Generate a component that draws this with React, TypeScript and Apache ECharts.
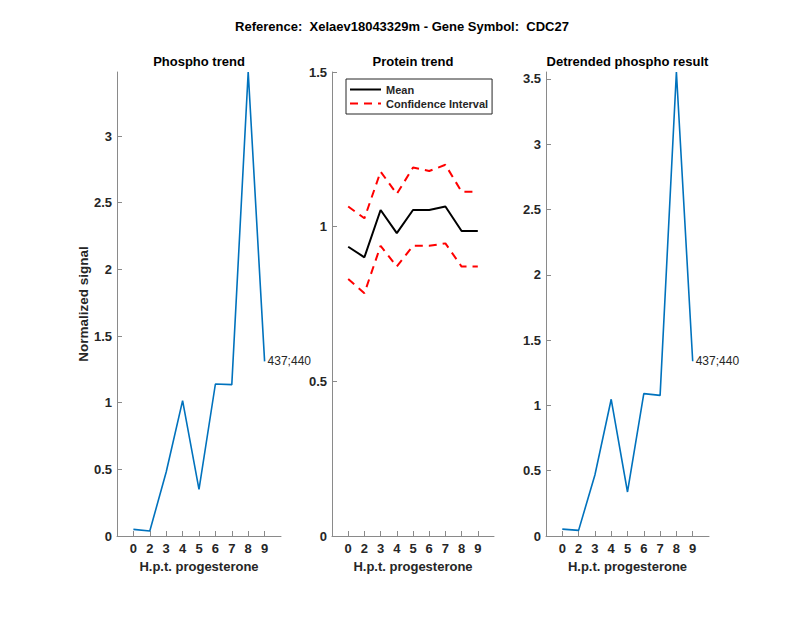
import React, { useEffect, useRef } from "react";
import * as echarts from "echarts";

const timeLabels = ["0", "2", "3", "4", "5", "6", "7", "8", "9"];
const phospho = [0.05, 0.037, 0.48, 1.015, 0.35, 1.14, 1.135, 3.48, 1.31];
const proteinMean = [0.935, 0.901, 1.054, 0.979, 1.054, 1.054, 1.065, 0.986, 0.986];
const proteinUpper = [1.065, 1.027, 1.178, 1.106, 1.191, 1.18, 1.2, 1.113, 1.113];
const proteinLower = [0.831, 0.785, 0.938, 0.871, 0.938, 0.938, 0.946, 0.871, 0.871];
const detrended = [0.053, 0.043, 0.467, 1.047, 0.337, 1.09, 1.077, 3.553, 1.338];
const phosphoTicks = [0, 0.5, 1, 1.5, 2, 2.5, 3];
const proteinTicks = [0, 0.5, 1, 1.5];
const detrendedTicks = [0, 0.5, 1, 1.5, 2, 2.5, 3, 3.5];
const peptideLabel = "437;440";
const mainTitle = "Reference:  Xelaev18043329m - Gene Symbol:  CDC27";
const panelTitles = ["Phospho trend", "Protein trend", "Detrended phospho result"];
const xName = "H.p.t. progesterone";
const yName = "Normalized signal";

const FONT = "'Liberation Sans', Arial, Helvetica, sans-serif";
const TXT = "#262626";
const AX = "#8a8a8a";
const BLUE = "#0072BD";

const grids = [
  { left: 117, top: 72, width: 164, height: 464 },
  { left: 332, top: 72, width: 162, height: 464 },
  { left: 546, top: 72, width: 163, height: 464 },
];

const xPositions = timeLabels.map((_, i) => i + 1);
const pairs = (arr: number[]) => arr.map((v, i) => [i + 1, v]);

export default function App() {
  const ref = useRef<HTMLDivElement>(null);
  useEffect(() => {
    if (!ref.current) return;
    const chart = echarts.init(ref.current, null, { renderer: "svg" });

    const xAxes = grids.map((_, gi) => ({
      gridIndex: gi,
      type: "value",
      min: 0,
      max: 10,
      axisLine: { show: true, onZero: false, lineStyle: { color: AX, width: 1 } },
      axisTick: { show: true, inside: true, length: 5, customValues: xPositions, lineStyle: { color: AX } },
      axisLabel: {
        customValues: xPositions,
        formatter: (v: number) => timeLabels[Math.round(v) - 1] ?? "",
        color: TXT,
        fontFamily: FONT,
        fontWeight: "bold",
        fontSize: 13,
        margin: 6,
      },
      splitLine: { show: false },
      name: xName,
      nameLocation: "middle",
      nameGap: 20,
      nameTextStyle: { color: TXT, fontFamily: FONT, fontWeight: "bold", fontSize: 13 },
    }));

    const tickSets = [phosphoTicks, proteinTicks, detrendedTicks];
    const yAxes = grids.map((_, gi) => ({
      gridIndex: gi,
      type: "value",
      min: 0,
      max: gi === 1 ? 1.5 : "dataMax",
      axisLine: { show: true, lineStyle: { color: AX, width: 1 } },
      axisTick: { show: true, inside: true, length: 5, customValues: tickSets[gi], lineStyle: { color: AX } },
      axisLabel: {
        customValues: tickSets[gi],
        formatter: (v: number) => String(v),
        color: TXT,
        fontFamily: FONT,
        fontWeight: "bold",
        fontSize: 13,
        margin: 5,
      },
      splitLine: { show: false },
      ...(gi === 0
        ? {
            name: yName,
            nameLocation: "middle",
            nameGap: 22,
            nameTextStyle: { color: TXT, fontFamily: FONT, fontWeight: "bold", fontSize: 13.5 },
          }
        : {}),
    }));

    const endLabel = {
      show: true,
      formatter: peptideLabel,
      color: TXT,
      fontFamily: FONT,
      fontSize: 12,
      distance: 3,
    };

    const option: any = {
      animation: false,
      backgroundColor: "#ffffff",
      grid: grids.map((g) => ({ ...g, containLabel: false })),
      xAxis: xAxes,
      yAxis: yAxes,
      legend: {
        data: ["Mean", "Confidence Interval"],
        orient: "vertical",
        left: 346,
        top: 79,
        padding: [5, 4, 5, 3],
        itemGap: 3,
        itemWidth: 31,
        itemHeight: 11,
        itemStyle: { opacity: 0 },
        borderColor: TXT,
        borderWidth: 1,
        backgroundColor: "#fff",
        textStyle: { color: TXT, fontFamily: FONT, fontWeight: "bold", fontSize: 11 },
      },
      graphic: [
        {
          type: "text",
          x: 402,
          y: 26,
          style: { text: mainTitle, fill: "#000", font: `bold 13px ${FONT}`, textAlign: "center", textVerticalAlign: "middle" },
        },
        ...grids.map((g, i) => ({
          type: "text",
          x: g.left + g.width / 2,
          y: 61,
          style: { text: panelTitles[i], fill: "#000", font: `bold 13px ${FONT}`, textAlign: "center", textVerticalAlign: "middle" },
        })),
      ],
      series: [
        {
          type: "line",
          xAxisIndex: 0,
          yAxisIndex: 0,
          data: pairs(phospho),
          symbol: "none",
          lineStyle: { color: BLUE, width: 1.6 },
          itemStyle: { color: BLUE },
          endLabel,
          clip: false,
        },
        {
          name: "Mean",
          type: "line",
          xAxisIndex: 1,
          yAxisIndex: 1,
          data: pairs(proteinMean),
          symbol: "none",
          lineStyle: { color: "#000", width: 2 },
          itemStyle: { color: "#000" },
        },
        {
          name: "Confidence Interval",
          type: "line",
          xAxisIndex: 1,
          yAxisIndex: 1,
          data: pairs(proteinUpper),
          symbol: "none",
          lineStyle: { color: "#ff0000", width: 2, type: [8, 6] },
          itemStyle: { color: "#ff0000" },
        },
        {
          name: "Confidence Interval",
          type: "line",
          xAxisIndex: 1,
          yAxisIndex: 1,
          data: pairs(proteinLower),
          symbol: "none",
          lineStyle: { color: "#ff0000", width: 2, type: [8, 6] },
          itemStyle: { color: "#ff0000" },
        },
        {
          type: "line",
          xAxisIndex: 2,
          yAxisIndex: 2,
          data: pairs(detrended),
          symbol: "none",
          lineStyle: { color: BLUE, width: 1.6 },
          itemStyle: { color: BLUE },
          endLabel,
          clip: false,
        },
      ],
    };
    chart.setOption(option);
    return () => chart.dispose();
  }, []);
  return <div ref={ref} style={{ position: "fixed", left: 0, top: 0, width: 800, height: 618 }} />;
}
